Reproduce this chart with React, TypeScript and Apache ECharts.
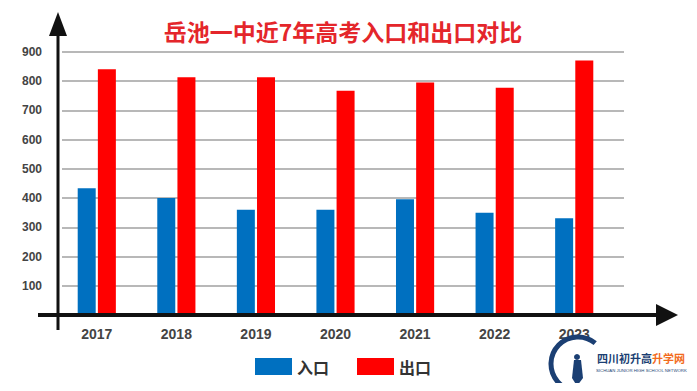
import React, { useEffect, useRef } from "react";
import * as echarts from "echarts";

const years = ["2017", "2018", "2019", "2020", "2021", "2022", "2023"];
const intake = [434, 400, 360, 360, 396, 350, 331];
const output = [841, 814, 814, 767, 796, 778, 871];
const titleText = "岳池一中近7年高考入口和出口对比";
const seriesNames = ["入口", "出口"];

export default function App() {
  const ref = useRef<HTMLDivElement>(null);
  useEffect(() => {
    if (!ref.current) return;
    const chart = echarts.init(ref.current, undefined, { renderer: "svg" });
    const font = "'Liberation Sans', Arial, sans-serif";
    const cjk = "'Noto Sans CJK SC', sans-serif";
    chart.setOption({
      animation: false,
      backgroundColor: "#ffffff",
      title: {
        text: titleText,
        left: 338,
        textAlign: "center",
        top: 14,
        textStyle: { color: "#e4262b", fontSize: 23, fontWeight: "bold", fontFamily: cjk },
      },
      legend: {
        data: seriesNames,
        left: 250,
        top: 353,
        itemWidth: 37,
        itemHeight: 17,
        itemGap: 28,
        icon: "rect",
        textStyle: { fontSize: 16, fontWeight: "bold", color: "#333", fontFamily: cjk },
      },
      grid: [
        { left: 62, right: 73, top: 52, bottom: 76 },
        { left: 57, right: 83, top: 52, bottom: 76 },
      ],
      xAxis: [
        { type: "value", gridIndex: 0, show: false, min: 0, max: 1 },
        {
          type: "category",
          gridIndex: 1,
          data: years,
          axisLine: { show: false },
          axisTick: { show: false },
          axisLabel: { margin: 12, fontSize: 14, fontWeight: "bold", color: "#444", fontFamily: font },
        },
      ],
      yAxis: [
        {
          type: "value",
          gridIndex: 0,
          min: 0,
          max: 900,
          interval: 100,
          axisLine: { show: false },
          axisTick: { show: false },
          splitLine: { lineStyle: { color: "#b8b8b8", width: 2 } },
          axisLabel: {
            margin: 20,
            fontSize: 12,
            fontWeight: "bold",
            color: "#444",
            fontFamily: font,
            formatter: (v: number) => (v === 0 ? "" : String(v)),
          },
        },
        { type: "value", gridIndex: 1, min: 0, max: 900, interval: 100, show: false, splitLine: { show: false } },
      ],
      series: [
        {
          name: seriesNames[0],
          type: "bar",
          xAxisIndex: 1,
          yAxisIndex: 1,
          data: intake,
          barWidth: 18,
          barGap: "12%",
          itemStyle: { color: "#0070c0" },
        },
        {
          name: seriesNames[1],
          type: "bar",
          xAxisIndex: 1,
          yAxisIndex: 1,
          data: output,
          barWidth: 18,
          barGap: "12%",
          itemStyle: { color: "#ff0000" },
        },
      ],
      graphic: [
        { type: "line", z: 50, shape: { x1: 58, y1: 30, x2: 58, y2: 330 }, style: { stroke: "#111", lineWidth: 3 } },
        { type: "polygon", z: 50, shape: { points: [[58, 12], [49, 36], [67, 36]] }, style: { fill: "#111" } },
        { type: "line", z: 50, shape: { x1: 38, y1: 315, x2: 662, y2: 315 }, style: { stroke: "#111", lineWidth: 4 } },
        { type: "polygon", z: 50, shape: { points: [[678, 315], [656, 304], [656, 326]] }, style: { fill: "#111" } },
        {
          type: "arc",
          z: 60,
          shape: { cx: 578, cy: 364, r: 27, startAngle: Math.PI * 0.3, endAngle: Math.PI * 1.72, clockwise: true },
          style: { stroke: "#1b3f73", lineWidth: 5, fill: "none" },
        },
        { type: "circle", z: 60, shape: { cx: 577, cy: 357, r: 3 }, style: { fill: "#1b3f73" } },
        { type: "polygon", z: 60, shape: { points: [[574, 360], [581, 360], [583, 378], [577, 386], [572, 378]] }, style: { fill: "#1b3f73" } },
        {
          type: "text",
          z: 60,
          x: 597,
          y: 352,
          style: {
            text: "{a|四川初升高}{b|升学网}",
            rich: {
              a: { fill: "#1b3f73", fontSize: 11, fontWeight: "bold", fontFamily: cjk },
              b: { fill: "#f26b1d", fontSize: 11, fontWeight: "bold", fontFamily: cjk },
            },
          },
        },
        {
          type: "text",
          z: 60,
          x: 596,
          y: 368,
          style: { text: "SICHUAN JUNIOR HIGH SCHOOL NETWORK", fill: "#1b3f73", fontSize: 4.3, fontFamily: font },
        },
      ],
    });
    return () => chart.dispose();
  }, []);
  return <div ref={ref} style={{ width: 697, height: 391, margin: -8 }} />;
}
